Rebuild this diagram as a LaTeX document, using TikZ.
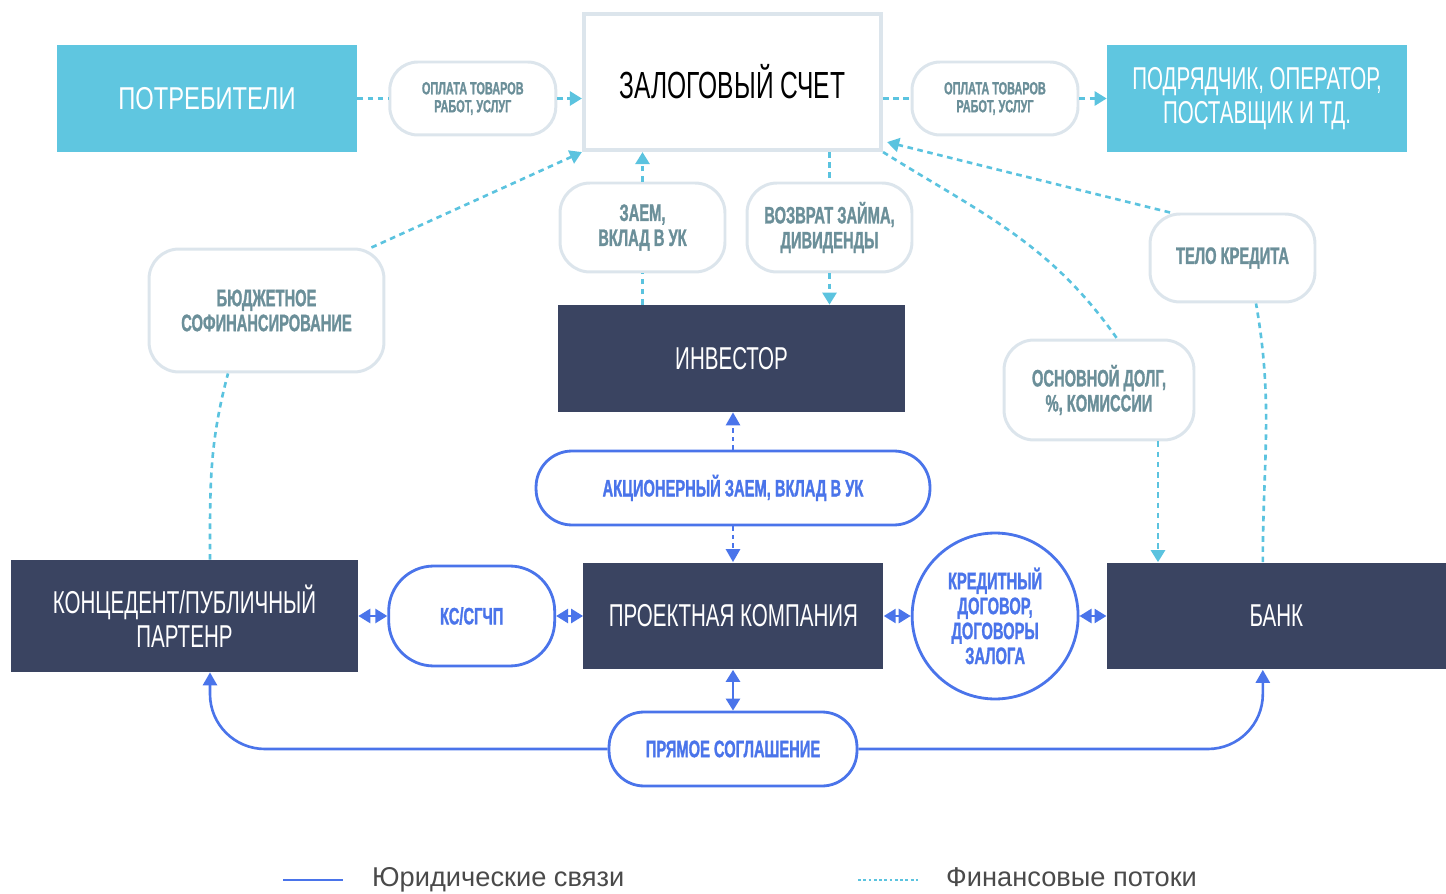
\documentclass[tikz,border=0pt]{standalone}
\usepackage{fontspec}
\setmainfont{Liberation Sans}
\newfontfamily\condfont[FakeStretch=0.65]{Liberation Sans}
\newfontfamily\widecond[FakeStretch=0.75]{Liberation Sans}
\newfontfamily\bebas[FakeStretch=0.62, FakeBold=1.2]{Liberation Sans Bold}
\usetikzlibrary{arrows.meta, positioning, shapes.geometric}
\definecolor{skyfill}{HTML}{5FC6E0}
\definecolor{navy}{HTML}{3A4461}
\definecolor{pillgray}{HTML}{DCE5EC}
\definecolor{pilltext}{HTML}{6B8F99}
\definecolor{lawblue}{HTML}{4A74EA}
\definecolor{fincyan}{HTML}{5BC3DF}
\definecolor{legendgray}{HTML}{4A4A4A}
\tikzstyle{lightblock} = [rectangle, fill=skyfill, text=white, minimum width=6cm,
  minimum height=2.14cm, align=center, font=\condfont\fontsize{18}{19.3}\selectfont]
\tikzstyle{darkblock} = [rectangle, fill=navy, text=white, minimum height=2.14cm,
  align=center, font=\condfont\fontsize{18}{19.3}\selectfont]
\tikzstyle{escrow} = [rectangle, draw=pillgray, line width=2.4pt, fill=white,
  minimum width=5.94cm, minimum height=2.72cm, font=\condfont\fontsize{21.5}{23}\selectfont]
\tikzstyle{flowpill} = [rectangle, rounded corners=0.6cm, draw=pillgray, line width=1.7pt,
  fill=white, text=pilltext, align=center, font=\bebas\fontsize{13.5}{14.2}\selectfont]
\tikzstyle{smallpill} = [flowpill, rounded corners=0.56cm, minimum width=3.32cm, minimum height=1.46cm,
  font=\bebas\fontsize{10}{10.2}\selectfont]
\tikzstyle{lawpill} = [rectangle, draw=lawblue, line width=1.6pt, fill=white, text=lawblue,
  align=center, font=\bebas\fontsize{13.5}{14.2}\selectfont]
\tikzstyle{fin} = [draw=fincyan, line width=1.5pt, dash pattern=on 3.2pt off 2.6pt]
\tikzstyle{finarrow} = [fin, -{Triangle[length=2.4mm,width=2.8mm]}]
\tikzstyle{law} = [draw=lawblue, line width=1.5pt]
\tikzstyle{lawarrow} = [law, -{Triangle[length=2.6mm,width=2.8mm]}]
\tikzstyle{lawboth} = [law, {Triangle[length=2.4mm,width=2.8mm]}-{Triangle[length=2.4mm,width=2.8mm]}]
\tikzstyle{lawdash} = [lawarrow, dash pattern=on 2.6pt off 2.2pt]

\begin{document}
\begin{tikzpicture}[x=0.02cm, y=0.02cm]
    \useasboundingbox (0,0) rectangle (1446,893);
    % top row
    \node[lightblock, font=\widecond\fontsize{18}{19.3}\selectfont] (potr) at (207,794.5) {ПОТРЕБИТЕЛИ};
    \node[smallpill, right=0.62cm of potr] (opl1) {ОПЛАТА ТОВАРОВ\\ РАБОТ, УСЛУГ};
    \node[escrow] (zalog) at (732.5,811) {ЗАЛОГОВЫЙ СЧЕТ};
    \node[smallpill] (opl2) at (995,794.5) {ОПЛАТА ТОВАРОВ\\ РАБОТ, УСЛУГ};
    \node[lightblock] (podr) at (1257,794.5) {ПОДРЯДЧИК, ОПЕРАТОР,\\ ПОСТАВЩИК И ТД.};
    % financial labels
    \node[flowpill, minimum width=3.3cm, minimum height=1.78cm] (zaem) at (642.5,665.5) {ЗАЕМ,\\ ВКЛАД В УК};
    \node[flowpill, minimum width=3.3cm, minimum height=1.78cm] (vozvr) at (829.5,665.5) {ВОЗВРАТ ЗАЙМА,\\ ДИВИДЕНДЫ};
    \node[darkblock, minimum width=6.94cm] (invest) at (731.5,534.5) {ИНВЕСТОР};
    \node[flowpill, minimum width=4.7cm, minimum height=2.46cm] (budg) at (266.5,582.5)
      {БЮДЖЕТНОЕ\\ СОФИНАНСИРОВАНИЕ};
    \node[flowpill, minimum width=3.3cm, minimum height=1.76cm] (telo) at (1232.5,635) {ТЕЛО КРЕДИТА};
    \node[flowpill, minimum width=3.8cm, minimum height=2cm] (osnov) at (1099,503)
      {ОСНОВНОЙ ДОЛГ,\\ \%, КОМИССИИ};
    \node[lawpill, rounded corners=0.72cm, minimum width=7.88cm, minimum height=1.48cm] (akc) at (733,405)
      {АКЦИОНЕРНЫЙ ЗАЕМ, ВКЛАД В УК};
    % middle row
    \node[darkblock, minimum width=6.94cm, minimum height=2.24cm] (konc) at (184.5,277)
      {КОНЦЕДЕНТ/ПУБЛИЧНЫЙ\\ ПАРТЕНР};
    \node[lawpill, rounded corners=0.9cm, minimum width=3.32cm, minimum height=2cm,
      right=0.58cm of konc] (ks) {КС/СГЧП};
    \node[darkblock, minimum width=6cm, right=0.54cm of ks] (proekt) {ПРОЕКТНАЯ КОМПАНИЯ};
    \node[lawpill, circle, minimum size=3.32cm, inner sep=0pt, right=0.54cm of proekt] (circ)
      {КРЕДИТНЫЙ\\ ДОГОВОР,\\ ДОГОВОРЫ\\ ЗАЛОГА};
    \node[darkblock, minimum width=6.78cm, right=0.54cm of circ] (bank) {БАНК};
    \node[lawpill, rounded corners=0.7cm, minimum width=4.96cm, minimum height=1.48cm] (pryam) at (733,144)
      {ПРЯМОЕ СОГЛАШЕНИЕ};
    % financial flows
    \draw[fin] (potr.east) -- (opl1.west);
    \draw[finarrow] (opl1.east) -- (opl1.east -| zalog.west);
    \draw[fin] (opl2.west -| zalog.east) -- (opl2.west);
    \draw[finarrow] (opl2.east) -- (podr.west);
    \draw[fin] (zaem.south |- invest.north) -- (zaem.south);
    \draw[finarrow] (zaem.north) -- (zaem.north |- zalog.south);
    \draw[fin] (vozvr.north |- zalog.south) -- (vozvr.north);
    \draw[finarrow] (vozvr.south) -- (vozvr.south |- invest.north);
    \draw[fin] ([xshift=0.51cm]konc.north) to[out=90,in=-105] ([xshift=-0.77cm]budg.south);
    \draw[finarrow] ([xshift=-0.28cm]budg.north east) -- (zalog.south west);
    \draw[fin] (zalog.south east) to[out=-32,in=125] ([xshift=0.36cm]osnov.north);
    \draw[finarrow] ([xshift=1.18cm]osnov.south) -- ([xshift=1.18cm]osnov.south |- bank.north);
    \draw[fin] ([xshift=-0.27cm]bank.north) to[out=90,in=-80] ([xshift=0.47cm]telo.south);
    \draw[finarrow] ([xshift=-1.25cm]telo.north) -- ([xshift=0.08cm,yshift=0.2cm]zalog.south east);
    % legal links
    \draw[lawboth] (konc.east) -- (ks.west);
    \draw[lawboth] (ks.east) -- (ks.east -| proekt.west);
    \draw[lawboth] (proekt.east) -- (proekt.east -| circ.west);
    \draw[lawboth] (circ.east) -- (circ.east -| bank.west);
    \draw[lawdash] (akc.north) -- (akc.north |- invest.south);
    \draw[lawdash] (akc.south) -- (akc.south |- proekt.north);
    \draw[lawboth] (pryam.north |- proekt.south) -- (pryam.north);
    \draw[lawarrow, rounded corners=1.1cm] (pryam.west) -| ([xshift=0.51cm]konc.south);
    \draw[lawarrow, rounded corners=1.1cm] (pryam.east) -| ([xshift=-0.27cm]bank.south);
    % legend
    \coordinate (lawa) at (283,13);
    \coordinate (lawb) at (343,13);
    \coordinate (fina) at (858,13);
    \coordinate (finb) at (918,13);
    \draw[law] (lawa) -- (lawb);
    \draw[draw=fincyan, line width=1.5pt, dash pattern=on 1.6pt off 1.4pt] (fina) -- (finb);
    \node[anchor=base west, text=legendgray, font=\fontsize{15.5}{18}\selectfont] (lawtxt) at (366,7) {Юридические связи};
    \node[anchor=base west, text=legendgray, font=\fontsize{15.5}{18}\selectfont] (fintxt) at (940,7) {Финансовые потоки};
\end{tikzpicture}
\end{document}
